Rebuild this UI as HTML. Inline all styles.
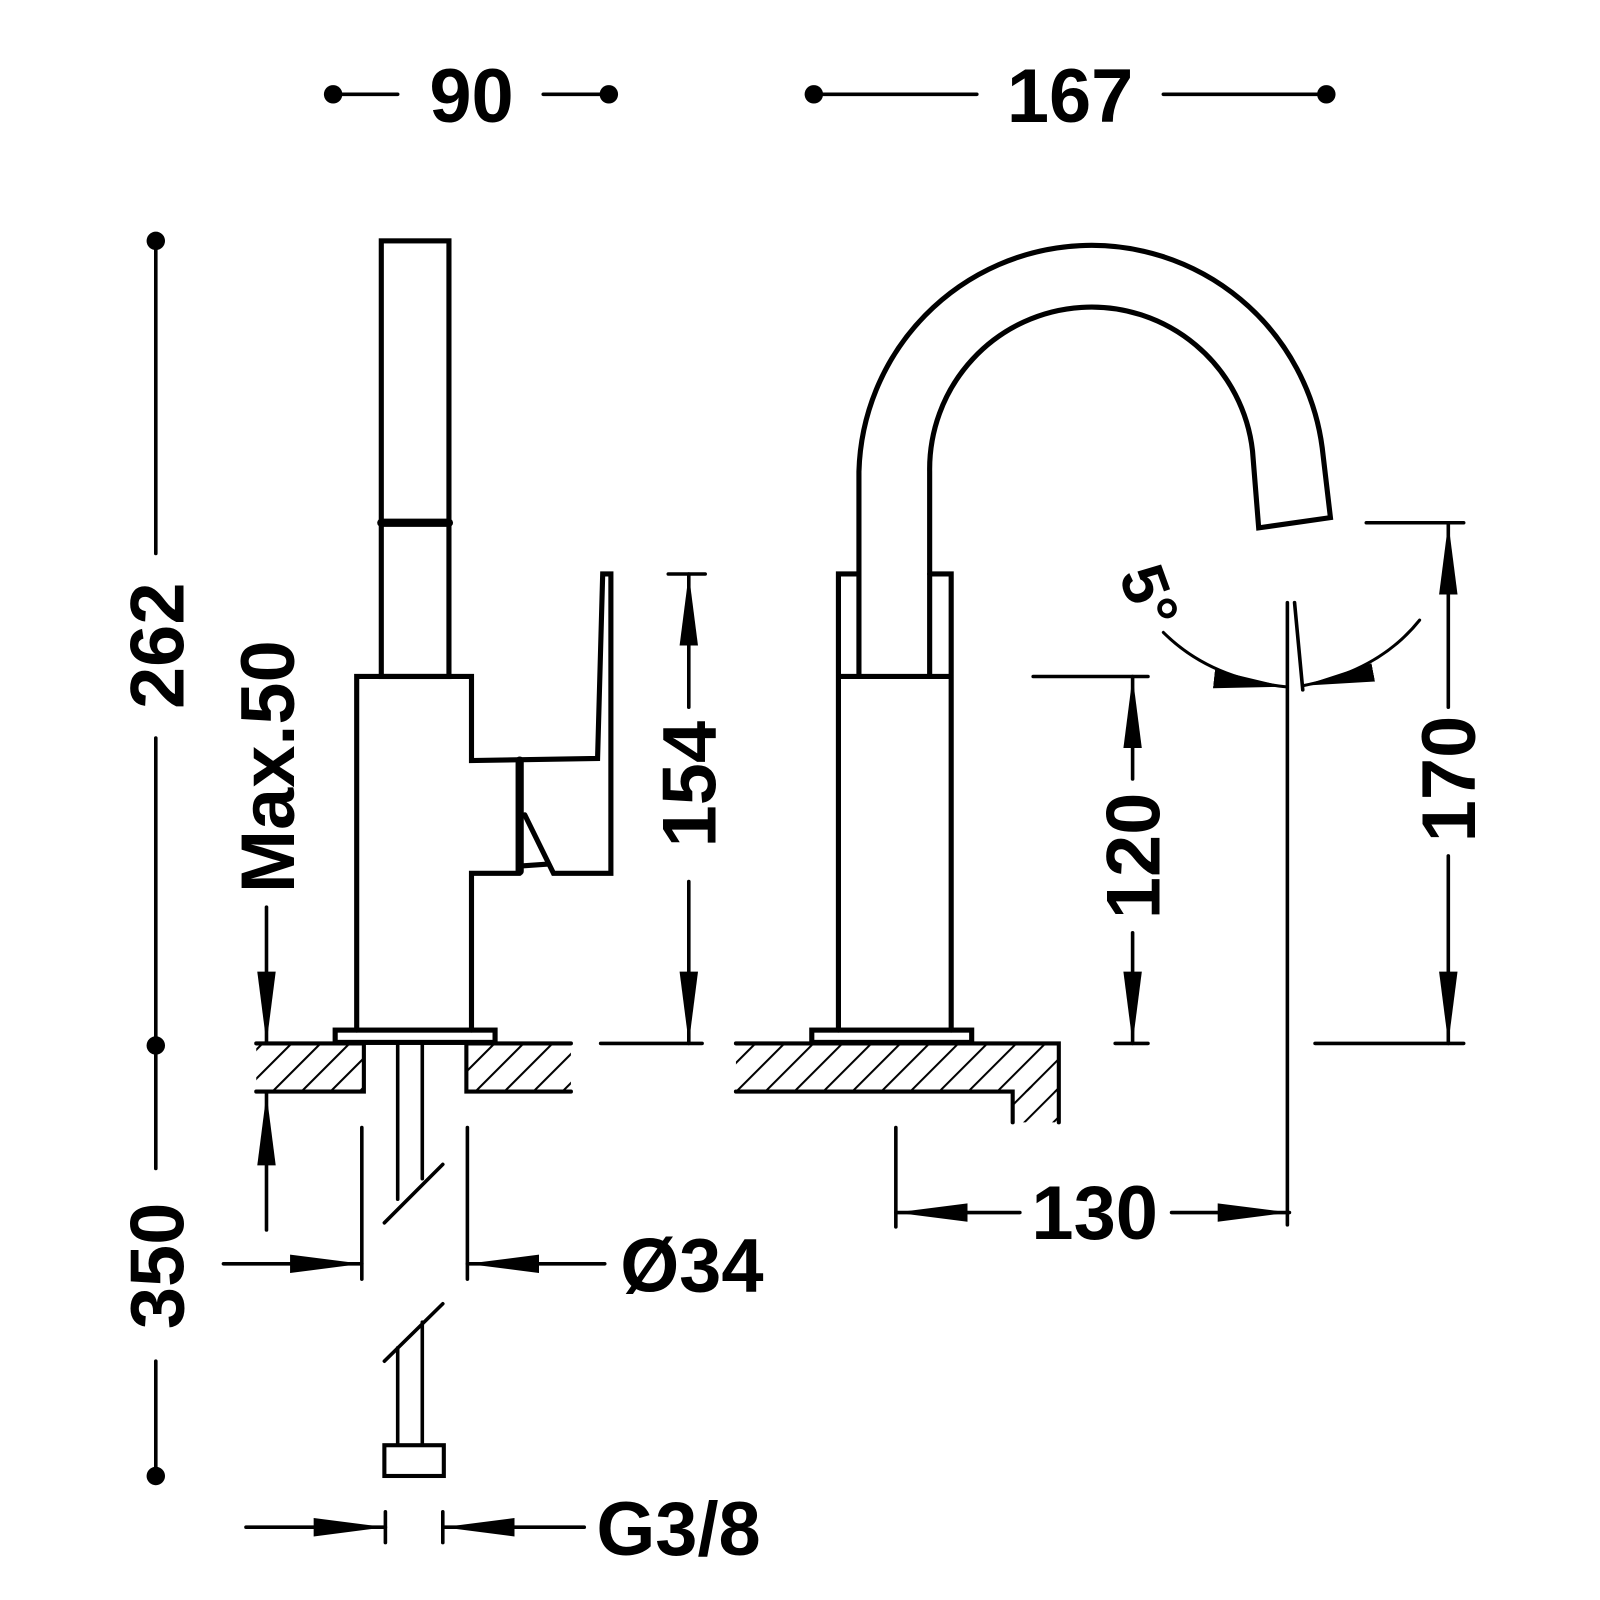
<!DOCTYPE html>
<html><head><meta charset="utf-8"><style>html,body{margin:0;padding:0;background:#fff}svg{display:block}</style></head>
<body>
<svg width="1600" height="1600" viewBox="0 0 1561 1561" xmlns="http://www.w3.org/2000/svg">
<defs>
<pattern id="h" patternUnits="userSpaceOnUse" width="20" height="20" patternTransform="rotate(45)">
<line x1="0" y1="0" x2="0" y2="20" stroke="#000" stroke-width="4"/>
</pattern>
<marker id="a" viewBox="0 0 70 20" refX="70" refY="10" markerWidth="70" markerHeight="20" markerUnits="userSpaceOnUse" orient="auto"><path d="M0,1 L70,10 L0,19 Z" fill="#000"/></marker>
</defs>
<g fill="none" stroke="#000" stroke-width="3.5" stroke-linecap="round">
<line x1="325" y1="92" x2="388" y2="92"/><line x1="530" y1="92" x2="594" y2="92"/>
<line x1="794" y1="92" x2="953" y2="92"/><line x1="1135" y1="92" x2="1294" y2="92"/>
<line x1="152" y1="235" x2="152" y2="540"/><line x1="152" y1="720" x2="152" y2="1140"/>
<line x1="152" y1="1328" x2="152" y2="1440"/>
<g stroke-width="5" stroke-linejoin="miter">
<rect x="372" y="235" width="66" height="425"/>
<line x1="372" y1="510" x2="438" y2="510" stroke-width="8"/>
<path d="M348,1005 L348,660 L460,660 L460,742 L583,740 L588,560 L596,560 L596,852 L540,852 L512,795"/>
<path d="M460,1005 L460,852 L507,852"/>
<line x1="507" y1="742" x2="507" y2="850" stroke-width="8"/>
<path d="M507,845 L535,843"/>
<rect x="327" y="1005" width="156" height="12"/>
<rect x="792" y="1005" width="156" height="12"/>
</g>
<rect x="250" y="1018" width="105" height="47" fill="url(#h)" stroke="none"/>
<rect x="455" y="1018" width="102" height="47" fill="url(#h)" stroke="none"/>
<path d="M250,1018 L355,1018 L355,1065 L250,1065" stroke-width="4"/>
<path d="M557,1018 L455,1018 L455,1065 L557,1065" stroke-width="4"/>
<line x1="388" y1="1017" x2="388" y2="1170"/><line x1="412" y1="1017" x2="412" y2="1150"/>
<line x1="375" y1="1193" x2="432" y2="1136"/>
<line x1="375" y1="1328" x2="432" y2="1272"/>
<line x1="388" y1="1315" x2="388" y2="1410"/><line x1="412" y1="1290" x2="412" y2="1410"/>
<rect x="375" y="1410" width="58" height="30" stroke-width="4"/>
<line x1="260" y1="885" x2="260" y2="1018" marker-end="url(#a)"/>
<line x1="260" y1="1200" x2="260" y2="1067" marker-end="url(#a)"/>
<line x1="353" y1="1100" x2="353" y2="1248"/><line x1="456" y1="1100" x2="456" y2="1248"/>
<line x1="218" y1="1233" x2="353" y2="1233" marker-end="url(#a)"/>
<line x1="590" y1="1233" x2="456" y2="1233" marker-end="url(#a)"/>
<line x1="376" y1="1475" x2="376" y2="1505"/><line x1="432" y1="1475" x2="432" y2="1505"/>
<line x1="240" y1="1490" x2="376" y2="1490" marker-end="url(#a)"/>
<line x1="570" y1="1490" x2="432" y2="1490" marker-end="url(#a)"/>
<line x1="652" y1="560" x2="688" y2="560"/><line x1="586" y1="1018" x2="685" y2="1018"/>
<line x1="672" y1="690" x2="672" y2="560" marker-end="url(#a)"/>
<line x1="672" y1="860" x2="672" y2="1018" marker-end="url(#a)"/>
<g stroke-width="5">
<path d="M838,660 L838,460 A227,227 0 0 1 1290,437 L1298,505 L1228,515 L1222,440 A158,158 0 0 0 907,460 L907,660"/>
<path d="M818,1005 L818,560 L838,560 M907,560 L928,560 L928,1005 M818,660 L928,660"/>
</g>
<rect x="718" y="1018" width="315" height="47" fill="url(#h)" stroke="none"/>
<rect x="988" y="1060" width="45" height="35" fill="url(#h)" stroke="none"/>
<path d="M718,1018 L1033,1018 L1033,1095 M988,1095 L988,1065 L718,1065" stroke-width="4"/>
<line x1="1008" y1="660" x2="1120" y2="660"/><line x1="1088" y1="1018" x2="1120" y2="1018"/>
<line x1="1105" y1="760" x2="1105" y2="660" marker-end="url(#a)"/>
<line x1="1105" y1="910" x2="1105" y2="1018" marker-end="url(#a)"/>
<line x1="1333" y1="510" x2="1428" y2="510"/><line x1="1283" y1="1018" x2="1428" y2="1018"/>
<line x1="1413" y1="690" x2="1413" y2="510" marker-end="url(#a)"/>
<line x1="1413" y1="835" x2="1413" y2="1018" marker-end="url(#a)"/>
<line x1="1256" y1="588" x2="1256" y2="1195"/>
<line x1="1263" y1="588" x2="1271" y2="673"/>
<path d="M1135,617 Q1180,662 1254,670" marker-end="url(#a)" stroke-width="3"/>
<path d="M1385,605 Q1345,655 1271,669" marker-end="url(#a)" stroke-width="3"/>
<line x1="874" y1="1100" x2="874" y2="1197"/>
<line x1="995" y1="1183" x2="874" y2="1183" marker-end="url(#a)"/>
<line x1="1143" y1="1183" x2="1258" y2="1183" marker-end="url(#a)"/>
</g>
<g fill="#000">
<circle cx="325" cy="92" r="9"/><circle cx="594" cy="92" r="9"/>
<circle cx="794" cy="92" r="9"/><circle cx="1294" cy="92" r="9"/>
<circle cx="152" cy="235" r="9"/><circle cx="152" cy="1020" r="9"/><circle cx="152" cy="1440" r="9"/>
</g>
<g font-family="Liberation Sans, sans-serif" font-weight="bold" font-size="74" text-anchor="middle" fill="#000">
<text x="460" y="119">90</text>
<text x="1044" y="119">167</text>
<text transform="translate(179,630) rotate(-90)">262</text>
<text transform="translate(179,1235) rotate(-90)">350</text>
<text transform="translate(287,748) rotate(-90)">Max.50</text>
<text transform="translate(698,765) rotate(-90)">154</text>
<text transform="translate(1131,835) rotate(-90)">120</text>
<text transform="translate(1439,760) rotate(-90)">170</text>
<text x="675" y="1260">Ø34</text>
<text x="662" y="1517">G3/8</text>
<text x="1068" y="1209">130</text>
<text transform="translate(1120,582) rotate(70)" y="20" font-size="62">5°</text>
</g>
</svg>
</body></html>
